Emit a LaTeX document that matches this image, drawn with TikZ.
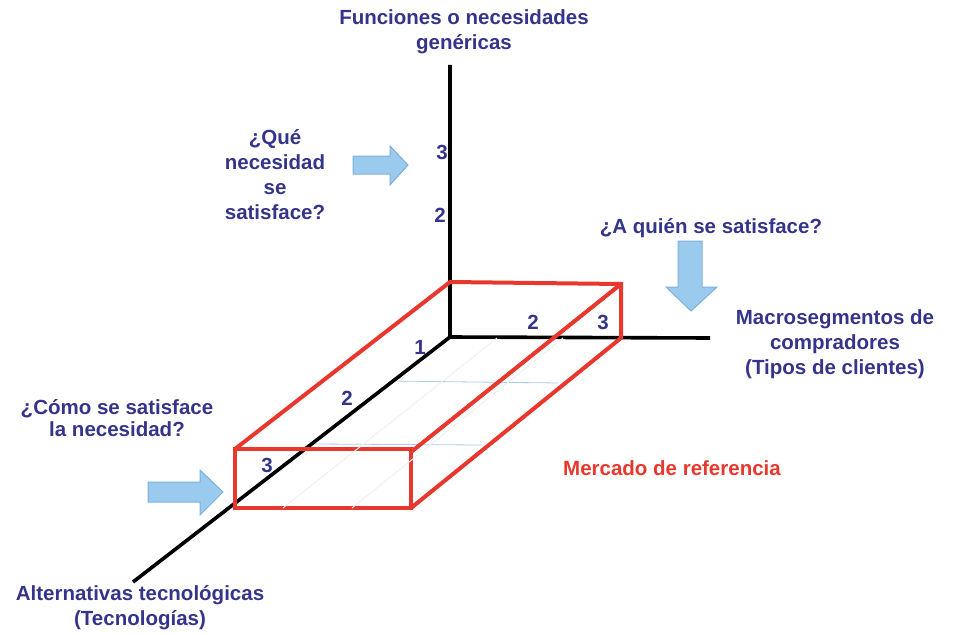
\documentclass[tikz,border=0pt]{standalone}
\usepackage{fontspec}
\setmainfont{Liberation Sans}
\definecolor{txtblue}{HTML}{34348A}
\definecolor{boxred}{HTML}{E8372C}
\definecolor{arrfill}{HTML}{9ACBEE}
\definecolor{arrdraw}{HTML}{7EB0DC}
\definecolor{gridblue}{HTML}{A9CCE6}
\begin{document}
\begin{tikzpicture}[x=1pt,y=-1pt,
  lbl/.style={text=txtblue,font=\fontsize{20.5}{25}\selectfont\bfseries,align=center,inner sep=0pt},
  num/.style={text=txtblue,font=\fontsize{20.5}{25}\selectfont\bfseries,inner sep=0pt},
  axisline/.style={line width=3.6pt,black},
  redbox/.style={line width=4pt,boxred,line join=miter},
  gridline/.style={line width=0.8pt,gridblue},
  faint/.style={line width=1pt,white!94!black},
  blockarrow/.style={fill=arrfill,draw=arrdraw,line width=1pt,line join=miter}]
\useasboundingbox (0,0) rectangle (955,634);
% axes
\coordinate (O) at (450,337);
\coordinate (Ytop) at (450,65);
\coordinate (Xend) at (710,338);
\coordinate (Zend) at (133,582);
% box corners
\coordinate (B1) at (450,282);
\coordinate (B2) at (621,284);
\coordinate (B3) at (621,338);
\coordinate (F1) at (235,449);
\coordinate (F2) at (411,452);
\coordinate (F3) at (411,508);
\coordinate (F4) at (235,505);
% grid
\coordinate (G1a) at (392,381);
\coordinate (G1b) at (558,383);
\coordinate (G2a) at (314,444);
\coordinate (G2b) at (482,445);
\draw[gridline] (G1a) -- (G1b);
\draw[gridline] (G2a) -- (G2b);
\draw[axisline] (Ytop) -- (O) -- (Xend);
\draw[axisline] (O) -- (Zend);
% red box
\draw[redbox] (F1) rectangle (F3);
\draw[redbox] (F1) -- (B1) -- (B2) -- (B3) -- (F3);
\draw[redbox] (F2) -- (B2);
% faint lines
\coordinate (L1a) at (283,508);
\coordinate (L1b) at (497,338);
\coordinate (L2a) at (352,508);
\coordinate (L2b) at (563,338);
\draw[faint] (L1a) -- (L1b);
\draw[faint] (L2a) -- (L2b);
% numbers
\node[num] (n1) at (420,347) {1};
\node[num] (n2) at (347,398) {2};
\node[num] (n3) at (267,465) {3};
\node[num] (m2) at (533,322) {2};
\node[num] (m3) at (603,322) {3};
\node[num] (v3) at (442,152) {3};
\node[num] (v2) at (440,215) {2};
% labels
\node[lbl] (fun) at (464,32) {Funciones o necesidades\\genéricas};
\node[lbl] (que) at (275,175) {¿Qué\\necesidad\\se\\satisface?};
\node[lbl] (aquien) at (711,228) {¿A quién se satisface?};
\node[lbl] (macro) at (835,344) {Macrosegmentos de\\compradores\\(Tipos de clientes)};
\node[lbl,font=\fontsize{20.5}{22.5}\selectfont\bfseries] (como) at (117,418) {¿Cómo se satisface\\la necesidad?};
\node[lbl] (alt) at (140,608) {Alternativas tecnológicas\\(Tecnologías)};
\node[lbl,text=boxred] (merc) at (672,468) {Mercado de referencia};
% block arrows
\draw[blockarrow] (353,156) -- (390,156) -- (390,146) -- (408,165) -- (390,185) -- (390,174) -- (353,174) -- cycle;
\draw[blockarrow] (148,482) -- (200,482) -- (200,470) -- (223,492) -- (200,515) -- (200,502) -- (148,502) -- cycle;
\draw[blockarrow] (678,241) -- (702,241) -- (702,287) -- (717,287) -- (691,311) -- (666,287) -- (678,287) -- cycle;
\end{tikzpicture}
\end{document}
